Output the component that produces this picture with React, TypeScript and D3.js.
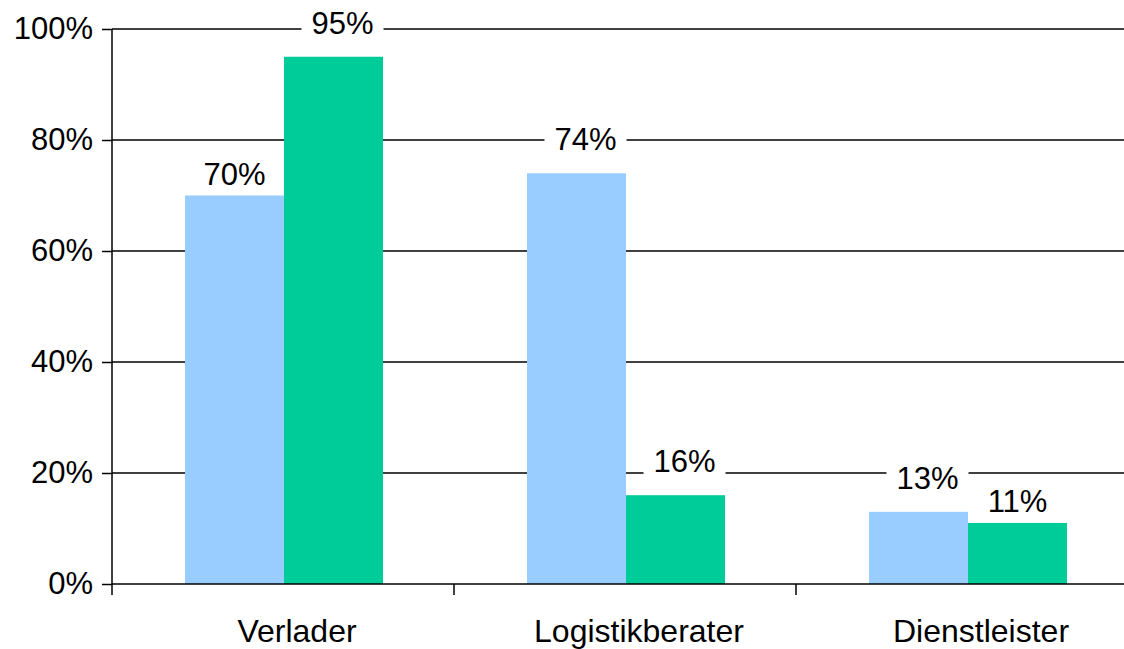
import React, { useRef, useEffect } from 'react';
import * as d3 from 'd3';

const categories = ['Verlader', 'Logistikberater', 'Dienstleister'];
const seriesA = [70, 74, 13];
const seriesB = [95, 16, 11];
const yTicks = [0, 20, 40, 60, 80, 100];

const colors = ['#99CCFF', '#00CC99'];
const font = '"Liberation Sans", Arial, sans-serif';
const fontSize = '31px';

const App: React.FC = () => {
  const svgRef = useRef<SVGSVGElement | null>(null);

  useEffect(() => {
    if (!svgRef.current) return;
    const width = 1124;
    const height = 649;
    const svg = d3.select(svgRef.current);
    svg.selectAll('*').remove();
    svg.attr('width', width).attr('height', height);

    const left = 112;
    const bandW = 342;

    const x0 = d3.scaleBand<string>()
      .domain(categories)
      .range([left, left + bandW * categories.length])
      .paddingInner(0)
      .paddingOuter(0);

    const x1 = d3.scaleBand<number>()
      .domain([0, 1])
      .range([72, bandW - 72]);

    const y = d3.scaleLinear().domain([0, 100]).range([584, 29]);

    // gridlines
    svg.append('g')
      .selectAll('line')
      .data(yTicks.filter(t => t > 0))
      .join('line')
      .attr('x1', left)
      .attr('x2', width)
      .attr('y1', d => y(d))
      .attr('y2', d => y(d))
      .attr('stroke', '#000')
      .attr('stroke-width', 1.5);

    // bars
    const rows = categories.map((c, i) => ({ c, vals: [seriesA[i], seriesB[i]] }));
    const groups = svg.append('g')
      .selectAll('g')
      .data(rows)
      .join('g')
      .attr('transform', d => `translate(${x0(d.c)},0)`);

    groups.selectAll('rect')
      .data(d => d.vals.map((v, k) => ({ v, k })))
      .join('rect')
      .attr('x', d => x1(d.k)! + 1)
      .attr('width', x1.bandwidth())
      .attr('y', d => y(d.v))
      .attr('height', d => y(0) - y(d.v))
      .attr('fill', d => colors[d.k]);

    // y axis
    const yAxis = svg.append('g')
      .attr('transform', `translate(${left},0)`)
      .call(d3.axisLeft(y).tickValues(yTicks).tickSize(10).tickPadding(9).tickFormat(d => `${d}%`));
    yAxis.select('.domain').attr('stroke-width', 1.5).attr('d', `M0,${y(100)}V${y(0) + 11}`);
    yAxis.selectAll('.tick line').attr('stroke-width', 1.5);
    yAxis.selectAll('text')
      .style('font-family', font)
      .style('font-size', fontSize)
      .attr('fill', '#000');

    // x axis
    const xAxis = svg.append('g')
      .attr('transform', `translate(0,${y(0)})`)
      .call(d3.axisBottom(x0).tickSize(0).tickPadding(35));
    xAxis.select('.domain').attr('stroke-width', 1.5).attr('d', `M${left},0H${width}`);
    xAxis.selectAll('text')
      .attr('dx', 14)
      .style('font-family', font)
      .style('font-size', '32px')
      .attr('fill', '#000');
    svg.append('g')
      .selectAll('line')
      .data(categories.slice(1))
      .join('line')
      .attr('x1', d => x0(d)!)
      .attr('x2', d => x0(d)!)
      .attr('y1', y(0))
      .attr('y2', y(0) + 11)
      .attr('stroke', '#000')
      .attr('stroke-width', 1.5);

    // value labels: sit 23px above the bar with a white box over the gridline,
    // or drop close to the bar when no gridline is in the way
    const gridYs = yTicks.map(t => y(t));
    const labels = svg.append('g');
    rows.forEach(r => {
      r.vals.forEach((v, k) => {
        let cx = x0(r.c)! + x1(k)! + x1.bandwidth() / 2 + 1;
        let baseline = y(v) - 23;
        const crosses = gridYs.some(g => g <= baseline + 2 && g >= baseline - 22);
        if (!crosses) baseline = y(v) - 11;
        else cx += 9;
        const g = labels.append('g');
        const t = g.append('text')
          .attr('x', cx)
          .attr('y', baseline)
          .attr('text-anchor', 'middle')
          .style('font-family', font)
          .style('font-size', fontSize)
          .attr('fill', '#000')
          .text(`${v}%`);
        if (crosses) {
          const bb = (t.node() as SVGTextElement).getBBox();
          g.insert('rect', 'text')
            .attr('x', bb.x - 10)
            .attr('y', baseline - 26)
            .attr('width', bb.width + 20)
            .attr('height', 30)
            .attr('fill', '#fff');
        }
      });
    });
  }, []);

  return (
    <svg ref={svgRef} style={{ position: 'absolute', left: 0, top: 0, display: 'block', background: '#fff' }}></svg>
  );
};

export default App;
